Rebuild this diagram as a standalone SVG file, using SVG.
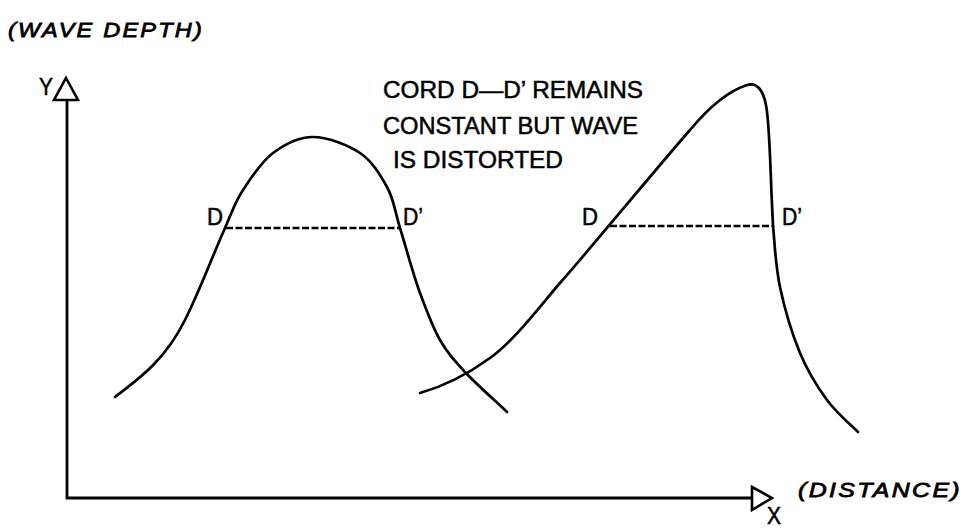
<svg xmlns="http://www.w3.org/2000/svg" width="969" height="528" viewBox="0 0 969 528">
<style>
.ax{fill:none;stroke:#000;stroke-width:2.8;stroke-linecap:round}
.tri{fill:#fff;stroke:#000;stroke-width:2.6;stroke-linejoin:miter}
.wave{fill:none;stroke:#000;stroke-width:2.7;stroke-linecap:round}
.chord{fill:none;stroke:#000;stroke-width:2.5;stroke-dasharray:7 2.5}
.t{font-family:"Liberation Sans",Arial,sans-serif;font-size:23px;fill:#000;stroke:#000;stroke-width:0.5}
.h{font-family:"Liberation Sans",Arial,sans-serif;font-style:italic;font-size:21px;fill:#000;stroke:#000;stroke-width:0.8;letter-spacing:2px}
</style>
<rect width="969" height="528" fill="#fff"/>
<g id="connectors">
  <path class="ax" d="M67,100 L67,498 L752,498"/>
</g>
<g id="y-axis-arrow">
  <path class="tri" d="M66,78 L78,100 L54,100 Z"/>
  <text class="t" x="39" y="95" font-size="24" textLength="14" lengthAdjust="spacingAndGlyphs">Y</text>
</g>
<g id="x-axis-arrow">
  <path class="tri" d="M752,487 L772,498 L752,510 Z"/>
  <text class="t" x="767" y="524" font-size="19" textLength="14" lengthAdjust="spacingAndGlyphs">X</text>
</g>
<g id="y-label">
  <text class="h" x="8" y="37" textLength="196" lengthAdjust="spacingAndGlyphs">(WAVE DEPTH)</text>
</g>
<g id="x-label">
  <text class="h" x="798" y="497" textLength="164" lengthAdjust="spacingAndGlyphs">(DISTANCE)</text>
</g>
<g id="wave1">
  <path class="wave" d="M115,397 C140,378 165,360 185,320 C200,290 210,262 225,228 C232,212 235,202 243,190 C251,178 261,162 273,153 C285,144 298.5,137 313,137 C327.5,137 348,145 360,153 C372,161 380,174.5 387,187 C394,199.5 394.5,210 400,228 C405.5,245.7 413,274 420,293 C427,312 432.5,327 440,340 C447.5,353 454,360 465,372 C476,384 500,405 507,412"/>
  <path class="chord" d="M226,228 L400,228"/>
  <text class="t" x="207" y="225" textLength="16" lengthAdjust="spacingAndGlyphs">D</text>
  <text class="t" x="403" y="225" textLength="20" lengthAdjust="spacingAndGlyphs">D’</text>
</g>
<g id="wave2">
  <path class="wave" d="M420,393 C445,386 468,374 490,358 C515,340 540,306 560,283 C585,255 655,170 690,130 C705,112 725,92 747,85 C757,82 763,90 766,105 C770,125 770,170 773,225 C774.7,244.5 775.5,265.7 780,287 C784.5,308.3 792.2,334.2 800,353 C807.8,371.8 817.3,386.8 827,400 C836.7,413.2 852.8,426.7 858,432"/>
  <path class="chord" d="M610,226 L773,226"/>
  <text class="t" x="582" y="225" textLength="16" lengthAdjust="spacingAndGlyphs">D</text>
  <text class="t" x="782" y="225" textLength="20" lengthAdjust="spacingAndGlyphs">D’</text>
</g>
<g id="caption">
  <text class="t" x="383" y="98" textLength="260" lengthAdjust="spacingAndGlyphs">CORD D—D’ REMAINS</text>
  <text class="t" x="383" y="134" textLength="255" lengthAdjust="spacingAndGlyphs">CONSTANT BUT WAVE</text>
  <text class="t" x="393" y="168" textLength="170" lengthAdjust="spacingAndGlyphs">IS DISTORTED</text>
</g>
</svg>
